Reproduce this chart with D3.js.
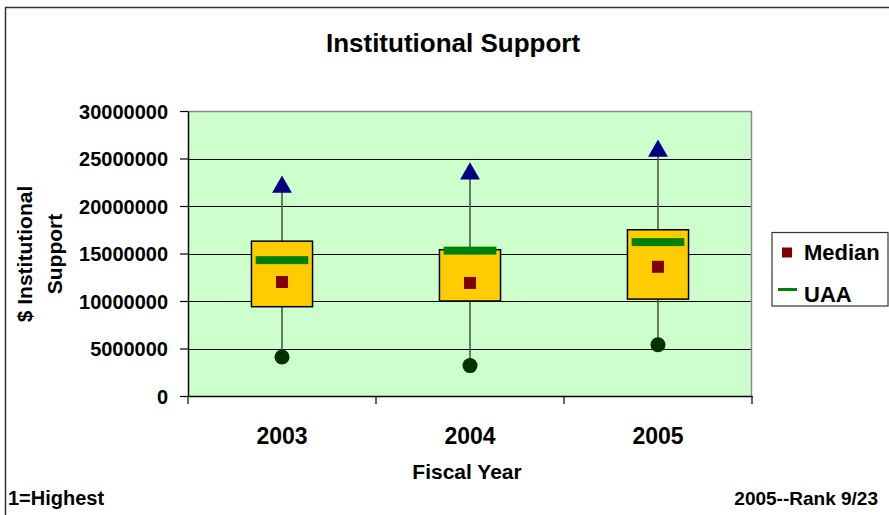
<!DOCTYPE html>
<html>
<head>
<meta charset="utf-8">
<script src="https://cdn.jsdelivr.net/npm/d3@7"></script>
<style>
  html, body { margin: 0; padding: 0; background: #fff; }
  svg { display: block; }
  text { font-family: "Liberation Sans", Arial, sans-serif; font-weight: bold; fill: #000; }
</style>
</head>
<body>
<svg id="chart" width="889" height="515"></svg>
<script>
// ---- data ----
const years = ["2003", "2004", "2005"];
const maxVals = [22100000, 23500000, 25900000];
const q3Vals = [16300000, 15400000, 17500000];
const q1Vals = [9400000, 10000000, 10200000];
const medianVals = [12000000, 11900000, 13600000];
const uaaVals = [14300000, 15300000, 16200000];
const minVals = [4100000, 3200000, 5400000];
const yTicks = [0, 5000000, 10000000, 15000000, 20000000, 25000000, 30000000];
const titleText = "Institutional Support";
const xTitle = "Fiscal Year";
const yTitleLines = ["$ Institutional", "Support"];
const legendItems = ["Median", "UAA"];
const footLeft = "1=Highest";
const footRight = "2005--Rank 9/23";

const rows = years.map((y, i) => ({
  year: y, max: maxVals[i], q3: q3Vals[i], q1: q1Vals[i],
  median: medianVals[i], uaa: uaaVals[i], min: minVals[i]
}));

const svg = d3.select("#chart");

// outer chart border
svg.append("rect")
  .attr("x", 5.5).attr("y", 7.5).attr("width", 950).attr("height", 600)
  .attr("fill", "none").attr("stroke", "#333").attr("stroke-width", 1.5);

const plot = { left: 188, right: 752, top: 111, bottom: 396 };

const x = d3.scaleBand().domain(years).range([plot.left, plot.right]).padding(0);
const y = d3.scaleLinear().domain([0, 30000000]).range([plot.bottom, plot.top]);

// plot background
svg.append("rect")
  .attr("x", plot.left).attr("y", plot.top)
  .attr("width", plot.right - plot.left).attr("height", plot.bottom - plot.top)
  .attr("fill", "#ccffcc");

// gridlines
svg.append("g").selectAll("line").data(yTicks.filter(d => d > 0 && d < 30000000)).join("line")
  .attr("x1", plot.left).attr("x2", plot.right)
  .attr("y1", d => Math.round(y(d)) + 0.5).attr("y2", d => Math.round(y(d)) + 0.5)
  .attr("stroke", "#000").attr("stroke-width", 1.2);

// plot border (top/right gray)
svg.append("path")
  .attr("d", `M${plot.left},${plot.top + 0.5}H${plot.right - 0.5}V${plot.bottom}`)
  .attr("fill", "none").attr("stroke", "#8a8a8a").attr("stroke-width", 1.5);

// y axis
const yAxis = svg.append("g").attr("transform", `translate(${plot.left},0)`)
  .call(d3.axisLeft(y).tickValues(yTicks).tickFormat(d3.format("d")).tickSize(8).tickSizeOuter(0));
yAxis.select(".domain").attr("stroke", "#000").attr("stroke-width", 1.5);
yAxis.selectAll(".tick line").attr("stroke", "#000").attr("stroke-width", 1.2);
yAxis.selectAll(".tick text")
  .attr("x", -20).attr("dy", "0.36em")
  .style("font-size", "20px").style("font-family", "'Liberation Sans', Arial, sans-serif")
  .style("font-weight", "bold").attr("fill", "#000");

// x axis
const xAxis = svg.append("g").attr("transform", `translate(0,${plot.bottom})`)
  .call(d3.axisBottom(x).tickSize(0).tickSizeOuter(0));
xAxis.select(".domain").attr("stroke", "#000").attr("stroke-width", 1.5);
xAxis.selectAll(".tick text")
  .attr("y", 48).attr("dy", 0)
  .style("font-size", "23px").style("font-family", "'Liberation Sans', Arial, sans-serif")
  .style("font-weight", "bold").attr("fill", "#000");
// category separator ticks
const sepTicks = years.map(d => x(d)).concat([plot.right]);
svg.append("g").selectAll("line").data(sepTicks).join("line")
  .attr("x1", d => d).attr("x2", d => d)
  .attr("y1", plot.bottom).attr("y2", plot.bottom + 8)
  .attr("stroke", "#000").attr("stroke-width", 1.2);

// boxes
const bw = x.bandwidth();
const g = svg.append("g");
const cx = d => x(d.year) + bw / 2;

// whiskers
g.selectAll("line.whisker").data(rows).join("line").attr("class", "whisker")
  .attr("x1", cx).attr("x2", cx)
  .attr("y1", d => y(d.min)).attr("y2", d => y(d.max))
  .attr("stroke", "#4a5a4a").attr("stroke-width", 1.6);

// box
const boxW = bw * 0.325;
g.selectAll("rect.box").data(rows).join("rect").attr("class", "box")
  .attr("x", d => cx(d) - boxW / 2).attr("width", boxW)
  .attr("y", d => y(d.q3)).attr("height", d => y(d.q1) - y(d.q3))
  .attr("fill", "#ffcc00").attr("stroke", "#000").attr("stroke-width", 1.5);

// UAA dash
const uaaW = bw * 0.28, uaaH = 8;
g.selectAll("rect.uaa").data(rows).join("rect").attr("class", "uaa")
  .attr("x", d => cx(d) - uaaW / 2).attr("width", uaaW)
  .attr("y", d => y(d.uaa) - uaaH / 2).attr("height", uaaH)
  .attr("fill", "#008000");

// median square
const ms = 12;
g.selectAll("rect.median").data(rows).join("rect").attr("class", "median")
  .attr("x", d => cx(d) - ms / 2).attr("width", ms)
  .attr("y", d => y(d.median) - ms / 2).attr("height", ms)
  .attr("fill", "#800000");

// max triangle
const tri = d3.symbol().type(d3.symbolTriangle).size(170);
g.selectAll("path.max").data(rows).join("path").attr("class", "max")
  .attr("d", tri)
  .attr("transform", d => `translate(${cx(d)},${y(d.max) + 1})`)
  .attr("fill", "#000080");

// min circle
g.selectAll("circle.min").data(rows).join("circle").attr("class", "min")
  .attr("cx", cx).attr("cy", d => y(d.min)).attr("r", 7.5)
  .attr("fill", "#003300");

// title
svg.append("text").attr("x", 453).attr("y", 52).attr("text-anchor", "middle")
  .style("font-size", "26px").text(titleText);

// x title
svg.append("text").attr("x", 467).attr("y", 479).attr("text-anchor", "middle")
  .style("font-size", "21px").text(xTitle);

// y title
const yt = svg.append("text").attr("transform", "translate(0,254) rotate(-90)")
  .attr("text-anchor", "middle").style("font-size", "21px");
yt.append("tspan").attr("x", 0).attr("y", 32).text(yTitleLines[0]);
yt.append("tspan").attr("x", 0).attr("y", 62).text(yTitleLines[1]);

// footers
svg.append("text").attr("x", 8).attr("y", 505).style("font-size", "20px").text(footLeft);
svg.append("text").attr("x", 878).attr("y", 505).attr("text-anchor", "end")
  .style("font-size", "19px").text(footRight);

// legend
const lg = svg.append("g");
lg.append("rect").attr("x", 772).attr("y", 232.5).attr("width", 116).attr("height", 73.5)
  .attr("fill", "#fff").attr("stroke", "#333").attr("stroke-width", 1.2);
lg.append("rect").attr("x", 782).attr("y", 247.5).attr("width", 10).attr("height", 10)
  .attr("fill", "#800000");
lg.append("line").attr("x1", 778).attr("x2", 797).attr("y1", 289.5).attr("y2", 289.5)
  .attr("stroke", "#008000").attr("stroke-width", 3);
lg.selectAll("text").data(legendItems).join("text")
  .attr("x", 804).attr("y", (d, i) => 260 + i * 41.5)
  .style("font-size", "22px").text(d => d);
</script>
</body>
</html>
